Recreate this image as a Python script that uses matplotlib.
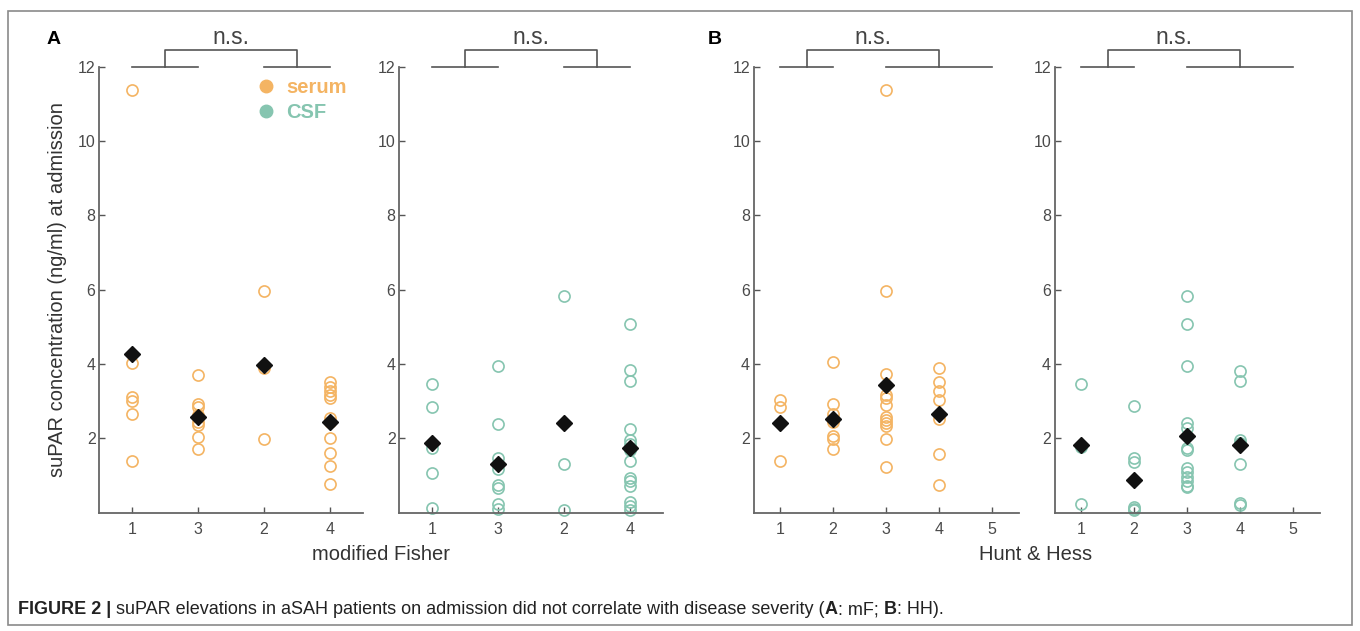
import numpy as np
import matplotlib
matplotlib.use('Agg')
import matplotlib.pyplot as plt
from matplotlib.lines import Line2D
from matplotlib.patches import Rectangle

plt.rcParams['font.family'] = ['Liberation Sans', 'DejaVu Sans']

# ---- data ----
mf_labels = ['1', '3', '2', '4']
hh_labels = ['1', '2', '3', '4', '5']

serum_mf = [
    [11.38, 4.03, 3.11, 3.00, 2.66, 1.39],
    [3.70, 2.93, 2.84, 2.62, 2.44, 2.35, 2.04, 1.70],
    [5.97, 3.90, 1.98],
    [3.52, 3.37, 3.27, 3.16, 3.08, 2.54, 2.45, 2.02, 1.60, 1.25, 0.76],
]
serum_mf_mean = [4.26, 2.56, 3.96, 2.45]

csf_mf = [
    [3.47, 2.84, 1.74, 1.07, 0.13],
    [3.94, 2.38, 1.48, 1.16, 0.74, 0.65, 0.24, 0.11],
    [5.84, 1.32, 0.08],
    [5.07, 3.83, 3.55, 2.25, 1.96, 1.85, 1.68, 1.38, 0.93, 0.86, 0.71, 0.28, 0.18, 0.07],
]
csf_mf_mean = [1.86, 1.32, 2.41, 1.75]

serum_hh = [
    [3.02, 2.83, 1.39],
    [4.04, 2.91, 2.66, 2.44, 2.05, 1.99, 1.70],
    [11.38, 5.97, 3.72, 3.16, 3.09, 2.89, 2.56, 2.49, 2.42, 2.32, 1.99, 1.23],
    [3.90, 3.52, 3.28, 3.04, 2.53, 1.59, 0.74],
    [],
]
serum_hh_mean = [2.41, 2.53, 3.43, 2.65]

csf_hh = [
    [3.47, 1.77, 0.22],
    [2.86, 1.48, 1.36, 0.15, 0.10, 0.06],
    [5.84, 5.07, 3.94, 2.40, 2.28, 1.74, 1.68, 1.21, 1.09, 0.95, 0.85, 0.72, 0.68],
    [3.81, 3.54, 1.95, 1.88, 1.32, 0.26, 0.20],
    [],
]
csf_hh_mean = [1.83, 0.87, 2.06, 1.83]

SERUM = '#F4B463'
CSF = '#86C5B0'
GREY = '#555555'

fig = plt.figure(figsize=(13.6, 6.31), dpi=100)

W, H = 1360.0, 631.0
bottom = (H - 512.6) / H
height = (512.6 - 66.7) / H
panels = [
    (99.0, 264.0, serum_mf, serum_mf_mean, mf_labels, SERUM, (1.5, 3.5), [(1, 2), (3, 4)]),
    (399.0, 264.0, csf_mf, csf_mf_mean, mf_labels, CSF, (1.5, 3.5), [(1, 2), (3, 4)]),
    (753.5, 265.0, serum_hh, serum_hh_mean, hh_labels, SERUM, (1.5, 4.0), [(1, 2), (3, 5)]),
    (1054.5, 265.0, csf_hh, csf_hh_mean, hh_labels, CSF, (1.5, 4.0), [(1, 2), (3, 5)]),
]

axes = []
for left, width, groups, means, labels, col, conn, segs in panels:
    ax = fig.add_axes([left / W, bottom, width / W, height])
    axes.append(ax)
    for i, vals in enumerate(groups):
        if len(vals) == 0:
            continue
        ax.plot([i + 1] * len(vals), vals, 'o', ms=8, mfc='none', mec=col, mew=1.2,
                clip_on=False, zorder=2)
    ax.plot(np.arange(1, len(means) + 1), means, 'D', ms=8.5, color='#111111',
            clip_on=False, zorder=3)

    ax.set_xlim(0.5, len(labels) + 0.5)
    ax.set_ylim(0, 12)
    ax.set_xticks(np.arange(1, len(labels) + 1))
    ax.set_xticklabels(labels)
    ax.set_yticks([2, 4, 6, 8, 10, 12])
    ax.tick_params(direction='in', length=4, width=1, color=GREY, labelcolor='#4a4a4a',
                   labelsize=11.5)
    ax.tick_params(axis='y', pad=2.5)
    ax.tick_params(axis='x', pad=7)
    for s in ['top', 'right']:
        ax.spines[s].set_visible(False)
    for s in ['left', 'bottom']:
        ax.spines[s].set_color('#666666')
        ax.spines[s].set_linewidth(1.3)

    # significance bracket
    for a, b in segs:
        ax.plot([a, b], [12, 12], color=GREY, lw=1.2, clip_on=False)
    ax.plot([conn[0], conn[0], conn[1], conn[1]], [12, 12.45, 12.45, 12],
            color=GREY, lw=1.2, clip_on=False)
    ax.text((conn[0] + conn[1]) / 2, 12.47, 'n.s.', ha='center', va='bottom',
            fontsize=16.5, color='#444444')

axes[0].set_ylabel('suPAR concentration (ng/ml) at admission', fontsize=14.5, color='#333333')
axes[0].yaxis.set_label_coords(-0.12, 0.5)

handles = [Line2D([], [], marker='o', ls='none', ms=9, color=SERUM),
           Line2D([], [], marker='o', ls='none', ms=9, color=CSF)]
axes[0].legend(handles, ['serum', 'CSF'], loc='upper left', bbox_to_anchor=(0.525, 0.993),
               frameon=False, handletextpad=0.0, labelspacing=0.3, borderaxespad=0,
               labelcolor=[SERUM, CSF], prop={'weight': 'bold', 'size': 14.5})

fig.text(381 / W, 1 - 555 / H, 'modified Fisher', ha='center', va='center',
         fontsize=14.5, color='#333333')
fig.text(1036 / W, 1 - 555 / H, 'Hunt & Hess', ha='center', va='center',
         fontsize=14.5, color='#333333')

fig.text(54 / W, 1 - 40 / H, 'A', ha='center', va='center', fontsize=14, weight='bold')
fig.text(715 / W, 1 - 40 / H, 'B', ha='center', va='center', fontsize=14, weight='bold')

# frame around the figure
fig.patches.append(Rectangle((8 / W, 1 - 625 / H), 1344 / W, 614 / H, transform=fig.transFigure,
                             fill=False, ec='#8a8a8a', lw=1.2))

# caption with mixed bold parts
parts = [('FIGURE 2 |', 'bold'),
         (' suPAR elevations in aSAH patients on admission did not correlate with disease severity (', 'normal'),
         ('A', 'bold'), (': mF; ', 'normal'), ('B', 'bold'), (': HH).', 'normal')]
cap_y = 1 - 610 / H
prev = fig.text(18 / W, cap_y, parts[0][0], fontsize=13, weight=parts[0][1],
                va='center', color='#222222')
fig.canvas.draw()
r = fig.canvas.get_renderer()
for txt, wt in parts[1:]:
    bb = prev.get_window_extent(r)
    prev = fig.text(bb.x1 / W, cap_y, txt, fontsize=13, weight=wt, va='center',
                    color='#222222')

fig.savefig('out.png', dpi=100)
